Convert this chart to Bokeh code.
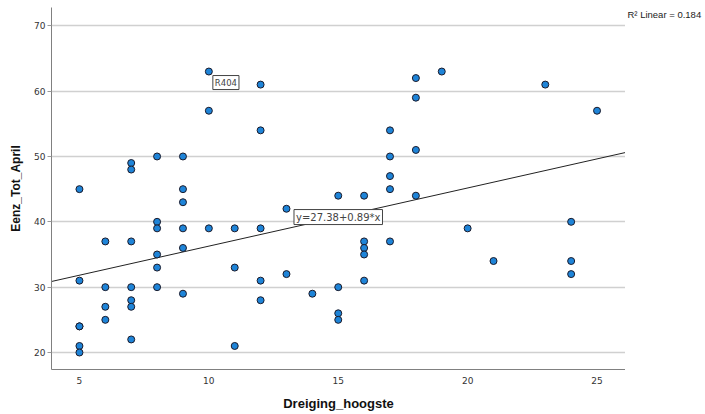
from bokeh.plotting import figure
from bokeh.layouts import row
from bokeh.models import ColumnDataSource, Range1d, FixedTicker, Label
from bokeh.embed import file_html
from bokeh.resources import INLINE

# ---- data ----
dreiging = [5, 5, 5, 5, 5, 5,
            6, 6, 6, 6,
            7, 7, 7, 7, 7, 7, 7,
            8, 8, 8, 8, 8, 8,
            9, 9, 9, 9, 9, 9,
            10, 10, 10,
            11, 11, 11,
            12, 12, 12, 12, 12,
            13, 13,
            14,
            15, 15, 15, 15,
            16, 16, 16, 16, 16,
            17, 17, 17, 17, 17,
            18, 18, 18, 18,
            19, 20, 21, 23,
            24, 24, 24,
            25]
eenz = [45, 31, 24, 24, 21, 20,
        37, 30, 27, 25,
        49, 48, 37, 30, 28, 27, 22,
        50, 40, 39, 35, 33, 30,
        50, 45, 43, 39, 36, 29,
        63, 57, 39,
        39, 33, 21,
        61, 54, 39, 31, 28,
        42, 32,
        29,
        44, 30, 26, 25,
        44, 37, 36, 35, 31,
        54, 50, 47, 45, 37,
        62, 59, 51, 44,
        63, 39, 34, 61,
        40, 34, 32,
        57]
fit_intercept = 27.38
fit_slope = 0.89
r2_linear = 0.184
x_ticks = [5, 10, 15, 20, 25]
y_ticks = [20, 30, 40, 50, 60, 70]
labelled_case = "R404"
labelled_x, labelled_y = 10, 63

x_lo, x_hi = 3.92, 26.1
y_lo, y_hi = 17.4, 72.8

src = ColumnDataSource(data=dict(x=dreiging, y=eenz))

p = figure(width=625, height=414, output_backend="svg", toolbar_location=None,
           x_range=Range1d(x_lo, x_hi), y_range=Range1d(y_lo, y_hi),
           min_border_left=51, min_border_right=0, min_border_top=7,
           min_border_bottom=45)
p.outline_line_color = None
p.background_fill_color = "white"
p.xgrid.grid_line_color = None
p.ygrid.grid_line_color = "#d0d0d0"
p.ygrid.grid_line_width = 1.5
p.ygrid.ticker = FixedTicker(ticks=y_ticks)

# axes
p.xaxis.ticker = FixedTicker(ticks=x_ticks)
p.yaxis.ticker = FixedTicker(ticks=y_ticks)
for ax in (p.xaxis[0], p.yaxis[0]):
    ax.axis_line_color = "#808080"
    ax.axis_line_width = 1
    ax.minor_tick_line_color = None
    ax.major_tick_line_color = "#999999"
    ax.major_tick_in = 0
    ax.major_label_text_font = "DejaVu Sans"
    ax.major_label_text_font_size = "9px"
    ax.major_label_text_color = "#333333"
    ax.axis_label_text_font = "Liberation Sans"
    ax.axis_label_text_font_style = "bold"
    ax.axis_label_text_color = "#111111"
p.xaxis.axis_label_text_font_size = "13px"
p.yaxis.axis_label_text_font_size = "12px"
p.xaxis.major_tick_out = 0
p.xaxis.major_label_standoff = 7
p.xaxis.axis_label_standoff = 9
p.yaxis.major_tick_out = 4
p.yaxis.major_label_standoff = 2
p.yaxis.axis_label_standoff = 8
p.xaxis.axis_label = "Dreiging_hoogste"
p.yaxis.axis_label = "Eenz_Tot_April"

# fit line across the full x range
p.line([x_lo, x_hi], [fit_intercept + fit_slope * x_lo, fit_intercept + fit_slope * x_hi],
       line_color="#222222", line_width=1)

# points
p.scatter("x", "y", source=src, size=7, fill_color="#1E84D8",
          line_color="#1a1a2a", line_width=1)

# labels
xm = 15
p.add_layout(Label(x=xm, y=fit_intercept + fit_slope * xm,
                   text=f"y={fit_intercept:.2f}+{fit_slope:.2f}*x",
                   text_font="DejaVu Sans", text_font_size="10px",
                   text_align="center", text_baseline="middle",
                   background_fill_color="white",
                   border_line_color="#444444", border_line_width=1,
                   padding=2))
p.add_layout(Label(x=labelled_x, y=labelled_y, x_offset=4, y_offset=-4,
                   text=labelled_case,
                   text_font="DejaVu Sans", text_font_size="8.5px",
                   text_align="left", text_baseline="top",
                   background_fill_color="white",
                   border_line_color="#444444", border_line_width=1,
                   padding=2))

# side strip on the right holding the R² note
side = figure(width=80, height=414, output_backend="svg", toolbar_location=None,
              x_range=Range1d(0, 1), y_range=Range1d(0, 1),
              min_border_left=0, min_border_right=0, min_border_top=0,
              min_border_bottom=0)
side.axis.visible = False
side.grid.visible = False
side.outline_line_color = None
side.add_layout(Label(x=0, y=1, x_offset=2, y_offset=-7,
                      text=f"R\u00b2 Linear = {r2_linear}",
                      text_font="Liberation Sans", text_font_size="9.5px",
                      text_align="left", text_baseline="middle",
                      text_color="#222222"))

layout = row(p, side, spacing=0)
open("out.html", "w").write(file_html(layout, INLINE))
